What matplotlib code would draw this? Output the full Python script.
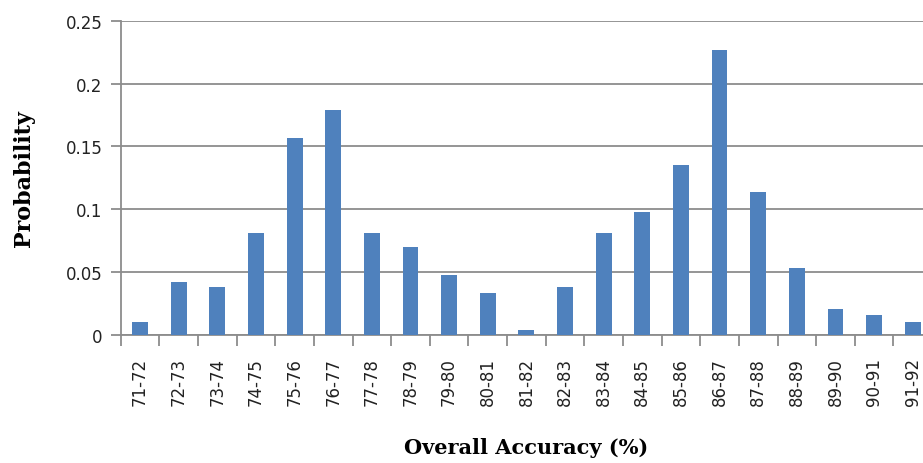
import matplotlib
matplotlib.use('Agg')
import matplotlib.pyplot as plt
import numpy as np

# accuracy bins and their probabilities
bins = ['71-72', '72-73', '73-74', '74-75', '75-76', '76-77', '77-78',
        '78-79', '79-80', '80-81', '81-82', '82-83', '83-84', '84-85',
        '85-86', '86-87', '87-88', '88-89', '89-90', '90-91', '91-92']
probability = [0.010, 0.042, 0.038, 0.081, 0.157, 0.179, 0.081,
               0.070, 0.048, 0.033, 0.004, 0.038, 0.081, 0.098,
               0.135, 0.227, 0.114, 0.053, 0.021, 0.016, 0.010]
yticks = [0, 0.05, 0.1, 0.15, 0.2, 0.25]
ytick_labels = ['0', '0.05', '0.1', '0.15', '0.2', '0.25']

fig = plt.figure(figsize=(9.23, 4.64), dpi=100)
# right edge of the plot runs past the picture, as in the original
ax = fig.add_axes([0.1308, 0.2759, 0.879, 0.6774])

x = np.arange(len(bins))
ax.bar(x, probability, width=0.41, color='#4F81BD', zorder=3)

ax.set_xlim(-0.5, len(bins) - 0.5)
ax.set_ylim(0, 0.25)
ax.set_yticks(yticks)
ax.set_yticklabels(ytick_labels)
ax.set_xticks(np.arange(len(bins) + 1) - 0.5)
ax.set_xticklabels([])
ax.set_xticks(x, minor=True)
ax.set_xticklabels(bins, minor=True, rotation=90)

grid_col = '#8c8c8c'
ax.yaxis.grid(True, color=grid_col, linewidth=1.3, zorder=0)
for s in ['top', 'right']:
    ax.spines[s].set_visible(False)
for s in ['left', 'bottom']:
    ax.spines[s].set_color(grid_col)
    ax.spines[s].set_linewidth(1.3)

ax.tick_params(axis='y', direction='out', length=7, width=1.3, color=grid_col,
               labelsize=12, labelcolor='#222222', pad=6)
ax.tick_params(axis='x', which='major', direction='out', length=8, width=1.3,
               color=grid_col)
ax.tick_params(axis='x', which='minor', length=0, labelsize=12,
               labelcolor='#222222', pad=16)

ax.set_ylabel('Probability', family='DejaVu Serif', fontweight='bold',
              fontsize=16, labelpad=22)
ax.set_xlabel('Overall Accuracy (%)', family='DejaVu Serif', fontweight='bold',
              fontsize=15, labelpad=23)

fig.savefig('out.png', dpi=100)
